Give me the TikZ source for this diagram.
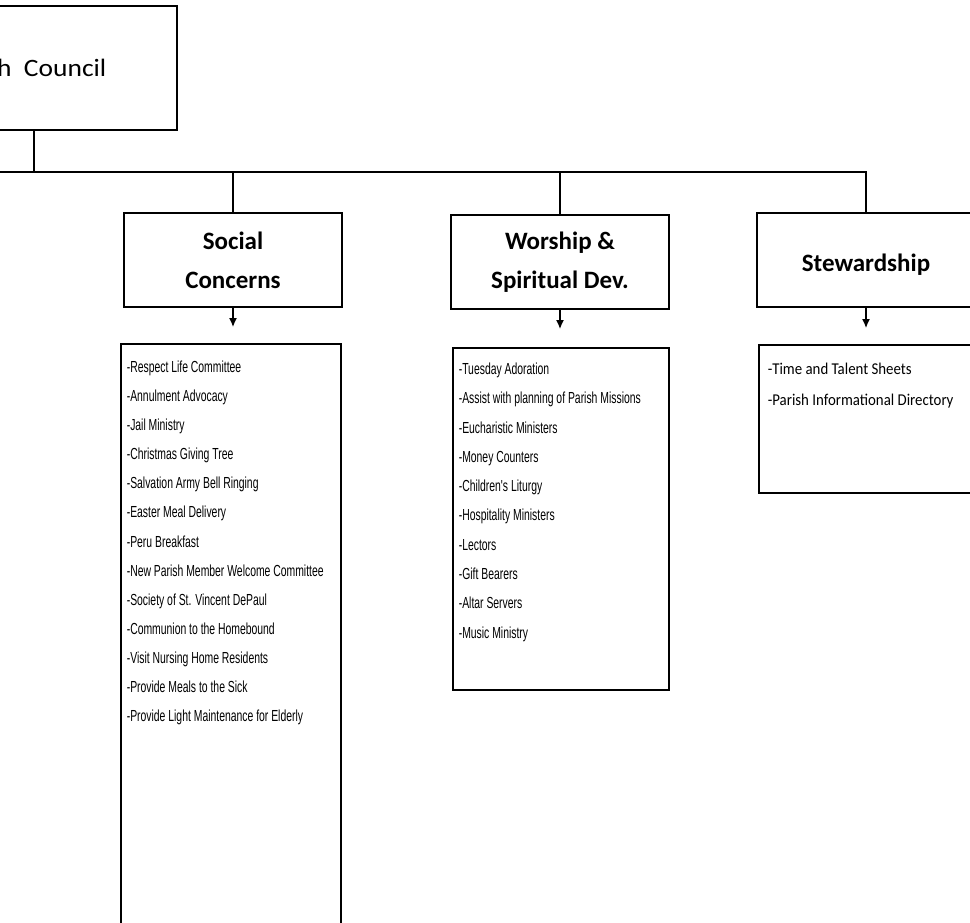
\documentclass[tikz,border=0pt]{standalone}
\usepackage{fontspec}
\usepackage{tikz}
\usetikzlibrary{arrows.meta}
\newfontfamily\calibrifont{Carlito}
\newfontfamily\councilfont[FakeStretch=1.1]{Carlito}
\newfontfamily\narrowfont[FakeStretch=0.65]{Liberation Sans}
\newfontfamily\listfont[FakeStretch=0.9]{Carlito}
\tikzset{
    council-box/.style = {draw=black, fill=white, line width=1.6pt, rectangle, minimum width=304pt, minimum height=124pt, font=\councilfont\fontsize{25}{30}\selectfont},
    head-box/.style = {draw=black, fill=white, line width=1.6pt, rectangle, minimum width=218pt, minimum height=94pt, align=center, font=\calibrifont\bfseries\fontsize{25}{39}\selectfont},
    low-text/.style = {execute at begin node={\rule{0pt}{26pt}}},
    list-box/.style = {draw=black, fill=white, line width=1.6pt, rectangle, anchor=north west, inner sep=0pt, inner xsep=6pt},
    link-line/.style = {line width=1.6pt},
    down-arrow/.style = {line width=1.3pt, -{Latex[length=9pt,width=8pt]}},
}

\begin{document}
\begin{tikzpicture}[x=1pt, y=-1pt]
\useasboundingbox (0,0) rectangle (970,922);
\clip (0,0) rectangle (970,922);
% council and bus line
\node [council-box] (council) at (25,68) {Parish\ \ Council};
\coordinate (trunk) at (34,172);
\coordinate (bus-west) at (-20,172);
% the three committees
\node [head-box] (social) at (233,260) {Social\\Concerns};
\node [head-box] (worship) at (560,262) {Worship \&\\Spiritual Dev.};
\node [head-box, low-text] (stewardship) at (866,260) {Stewardship};
\draw [link-line] (council.south -| trunk) -- (trunk);
\draw [link-line] (bus-west) -- (stewardship.north |- bus-west) -- (stewardship.north);
\draw [link-line] (social.north |- trunk) -- (social.north);
\draw [link-line] (worship.north |- trunk) -- (worship.north);
% ministry lists
\node [list-box] (social-list) at (120,343) {\begin{minipage}[t][600pt][t]{208pt}
    \narrowfont\fontsize{16}{29.1}\selectfont
    \vspace*{17pt}
    -Respect Life Committee\\
    -Annulment Advocacy\\
    -Jail Ministry\\
    -Christmas Giving Tree\\
    -Salvation Army Bell Ringing\\
    -Easter Meal Delivery\\
    -Peru Breakfast\\
    -New Parish Member Welcome Committee\\
    -Society of St. Vincent DePaul\\
    -Communion to the Homebound\\
    -Visit Nursing Home Residents\\
    -Provide Meals to the Sick\\
    -Provide Light Maintenance for Elderly
\end{minipage}};
\node [list-box] (worship-list) at (452,347) {\begin{minipage}[t][342pt][t]{204pt}
    \narrowfont\fontsize{16}{29.3}\selectfont
    \vspace*{15pt}
    -Tuesday Adoration\\
    -Assist with planning of Parish Missions\\
    -Eucharistic Ministers\\
    -Money Counters\\
    -Children's Liturgy\\
    -Hospitality Ministers\\
    -Lectors\\
    -Gift Bearers\\
    -Altar Servers\\
    -Music Ministry
\end{minipage}};
\node [list-box, inner xsep=9pt] (stewardship-list) at (758,344) {\begin{minipage}[t][148pt][t]{200pt}
    \listfont\fontsize{16.5}{31}\selectfont
    \vspace*{18pt}
    -Time and Talent Sheets\\
    -Parish Informational Directory
\end{minipage}};
\draw [down-arrow] (social.south) -- ([yshift=16pt]social-list.north -| social.south);
\draw [down-arrow] (worship.south) -- ([yshift=18pt]worship-list.north -| worship.south);
\draw [down-arrow] (stewardship.south) -- ([yshift=16pt]stewardship-list.north -| stewardship.south);
\end{tikzpicture}
\end{document}
